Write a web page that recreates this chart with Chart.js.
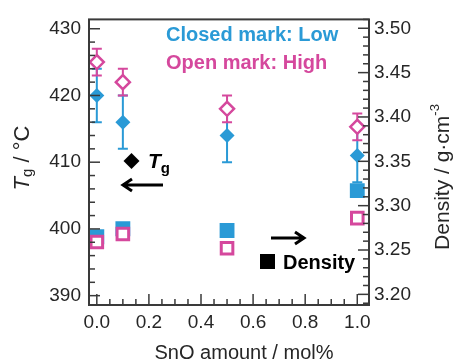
<!DOCTYPE html>
<html>
<head>
<meta charset="utf-8">
<script src="https://cdn.jsdelivr.net/npm/chart.js@4/dist/chart.umd.min.js"></script>
<style>
  body { margin: 0; background: #fff; }
  canvas { display: block; }
</style>
</head>
<body>
<canvas id="tgChart" width="454" height="363"></canvas>
<script>
// values
const snoAmount = [0.0, 0.1, 0.5, 1.0];
const tgLow = [420, 416, 414, 411];
const tgLowErr = [4, 4, 4, 4];
const tgHigh = [425, 422, 418, 415.3];
const tgHighErr = [2, 2, 2, 2];
const densityLow = [3.265, 3.274, 3.272, 3.317];
const densityHigh = [3.259, 3.268, 3.252, 3.286];

const xTickValues = [0.0, 0.2, 0.4, 0.6, 0.8, 1.0];
const tgTickValues = [390, 400, 410, 420, 430];
const densityTickValues = [3.20, 3.25, 3.30, 3.35, 3.40, 3.45, 3.50];

const BLUE = '#2a9ad6';
const PINK = '#d5489d';
const INK = '#262626';

function points(xs, ys) {
  return xs.map((x, i) => ({ x: x, y: ys[i] }));
}

// error bars for the Tg series, drawn under the markers
const errorBars = {
  id: 'errorBars',
  beforeDatasetsDraw(chart) {
    const ctx = chart.ctx;
    const xs = chart.scales.x, ys = chart.scales.yTg;
    const sets = [[tgLow, tgLowErr, BLUE], [tgHigh, tgHighErr, PINK]];
    ctx.save();
    ctx.lineWidth = 2;
    sets.forEach(([vals, errs, color]) => {
      ctx.strokeStyle = color;
      vals.forEach((v, i) => {
        const px = xs.getPixelForValue(snoAmount[i]);
        const top = ys.getPixelForValue(v + errs[i]);
        const bot = ys.getPixelForValue(v - errs[i]);
        ctx.beginPath();
        ctx.moveTo(px, top); ctx.lineTo(px, bot);
        ctx.moveTo(px - 5, top); ctx.lineTo(px + 5, top);
        ctx.moveTo(px - 5, bot); ctx.lineTo(px + 5, bot);
        ctx.stroke();
      });
    });
    ctx.restore();
  }
};

function richText(ctx, parts, x, y, align) {
  let total = 0;
  parts.forEach(p => { ctx.font = p.font; total += ctx.measureText(p.text).width; });
  let cx = align === 'center' ? x - total / 2 : x;
  parts.forEach(p => {
    ctx.font = p.font;
    ctx.fillText(p.text, cx, y + (p.dy || 0));
    cx += ctx.measureText(p.text).width;
  });
}

// frame, inward ticks, titles and annotations
const decor = {
  id: 'decor',
  afterDraw(chart) {
    const ctx = chart.ctx;
    const a = chart.chartArea;
    ctx.save();
    ctx.strokeStyle = '#3a3a3a';
    ctx.lineWidth = 2;
    ctx.strokeRect(a.left, a.top, a.right - a.left, a.bottom - a.top);

    ctx.lineWidth = 1.5;
    const drawTicks = (scale, majors, step, side) => {
      const lo = Math.ceil(scale.min / step - 1e-6);
      const hi = Math.floor(scale.max / step + 1e-6);
      for (let k = lo; k <= hi; k++) {
        const v = k * step;
        const major = majors.some(m => Math.abs(m - v) < step / 10);
        const len = major ? 11 : 6;
        const p = scale.getPixelForValue(v);
        ctx.beginPath();
        if (side === 'left') { ctx.moveTo(a.left, p); ctx.lineTo(a.left + len, p); }
        if (side === 'right') { ctx.moveTo(a.right, p); ctx.lineTo(a.right - len, p); }
        if (side === 'bottom') { ctx.moveTo(p, a.bottom); ctx.lineTo(p, a.bottom - len); }
        ctx.stroke();
      }
    };
    drawTicks(chart.scales.yTg, tgTickValues, 2, 'left');
    drawTicks(chart.scales.yDensity, densityTickValues, 0.01, 'right');
    drawTicks(chart.scales.x, xTickValues, 0.05, 'bottom');

    ctx.fillStyle = INK;
    ctx.textBaseline = 'middle';
    const sans = 'Liberation Sans, Arial, sans-serif';

    // x title
    ctx.textAlign = 'left';
    richText(ctx, [{ text: 'SnO amount / mol%', font: '20px ' + sans }], 244, 353, 'center');

    // left title
    ctx.save();
    ctx.translate(23, 158);
    ctx.rotate(-Math.PI / 2);
    richText(ctx, [
      { text: 'T', font: 'italic 22px ' + sans },
      { text: 'g', font: '15px ' + sans, dy: 5 },
      { text: ' / °C', font: '22px ' + sans }
    ], 0, 0, 'center');
    ctx.restore();

    // right title
    ctx.save();
    ctx.translate(443, 177);
    ctx.rotate(-Math.PI / 2);
    richText(ctx, [
      { text: 'Density / g·cm', font: '21px ' + sans },
      { text: '-3', font: '13px ' + sans, dy: -8 }
    ], 0, 0, 'center');
    ctx.restore();

    // legend notes
    ctx.textBaseline = 'alphabetic';
    ctx.fillStyle = BLUE;
    richText(ctx, [{ text: 'Closed mark: Low', font: 'bold 20px ' + sans }], 166, 41, 'left');
    ctx.fillStyle = PINK;
    richText(ctx, [{ text: 'Open mark: High', font: 'bold 20px ' + sans }], 166, 69, 'left');

    ctx.fillStyle = '#000';
    ctx.strokeStyle = '#000';
    // Tg marker + arrow
    ctx.beginPath();
    ctx.moveTo(131.5, 153); ctx.lineTo(139.5, 161); ctx.lineTo(131.5, 169); ctx.lineTo(123.5, 161);
    ctx.closePath(); ctx.fill();
    richText(ctx, [
      { text: 'T', font: 'italic bold 21px ' + sans },
      { text: 'g', font: 'bold 15px ' + sans, dy: 5 }
    ], 148, 168, 'left');
    ctx.lineWidth = 3;
    ctx.beginPath();
    ctx.moveTo(163, 185); ctx.lineTo(124, 185);
    ctx.moveTo(132, 179); ctx.lineTo(123, 185); ctx.lineTo(132, 191);
    ctx.stroke();

    // density marker + arrow
    ctx.beginPath();
    ctx.moveTo(271, 238); ctx.lineTo(303, 238);
    ctx.moveTo(295, 232); ctx.lineTo(304, 238); ctx.lineTo(295, 244);
    ctx.stroke();
    ctx.fillRect(260, 254, 15, 15);
    richText(ctx, [{ text: 'Density', font: 'bold 20px ' + sans }], 283, 269, 'left');
    ctx.restore();
  }
};

const tickFont = { family: 'Liberation Sans, Arial, sans-serif', size: 19 };

new Chart(document.getElementById('tgChart'), {
  type: 'scatter',
  data: {
    datasets: [
      {
        label: 'Tg high',
        data: points(snoAmount, tgHigh),
        yAxisID: 'yTg',
        order: 1,
        pointStyle: 'rectRot',
        pointRadius: 7,
        pointBorderWidth: 2.5,
        pointBorderColor: PINK,
        pointBackgroundColor: '#fff'
      },
      {
        label: 'Density high',
        data: points(snoAmount, densityHigh),
        yAxisID: 'yDensity',
        order: 1,
        pointStyle: 'rect',
        pointRadius: 8.2,
        pointBorderWidth: 3,
        pointBorderColor: PINK,
        pointBackgroundColor: '#fff'
      },
      {
        label: 'Tg low',
        data: points(snoAmount, tgLow),
        yAxisID: 'yTg',
        order: 2,
        pointStyle: 'rectRot',
        pointRadius: 7.5,
        pointBorderWidth: 0,
        pointBackgroundColor: BLUE
      },
      {
        label: 'Density low',
        data: points(snoAmount, densityLow),
        yAxisID: 'yDensity',
        order: 2,
        pointStyle: 'rect',
        pointRadius: 10.5,
        pointBorderWidth: 0,
        pointBackgroundColor: BLUE
      }
    ]
  },
  options: {
    responsive: false,
    animation: false,
    devicePixelRatio: 1,
    layout: { padding: { top: 15, left: 0, right: 0, bottom: 0 } },
    plugins: { legend: { display: false }, tooltip: { enabled: false } },
    scales: {
      x: {
        type: 'linear',
        min: -0.03,
        max: 1.045,
        grid: { display: false, drawTicks: false },
        border: { display: false },
        afterBuildTicks: s => { s.ticks = xTickValues.map(v => ({ value: v })); },
        afterFit: s => { s.height = 58; },
        ticks: { font: tickFont, color: INK, padding: 6, maxRotation: 0, callback: v => v.toFixed(1) }
      },
      yTg: {
        type: 'linear',
        position: 'left',
        min: 388.6,
        max: 431.4,
        grid: { display: false, drawTicks: false },
        border: { display: false },
        afterBuildTicks: s => { s.ticks = tgTickValues.map(v => ({ value: v })); },
        afterFit: s => { s.width = 89; },
        ticks: { font: tickFont, color: INK, padding: 8, callback: v => String(v) }
      },
      yDensity: {
        type: 'linear',
        position: 'right',
        min: 3.188,
        max: 3.510,
        grid: { display: false, drawTicks: false },
        border: { display: false },
        afterBuildTicks: s => { s.ticks = densityTickValues.map(v => ({ value: v })); },
        afterFit: s => { s.width = 85; },
        ticks: { font: tickFont, color: INK, padding: 5, callback: v => v.toFixed(2) }
      }
    }
  },
  plugins: [errorBars, decor]
});
</script>
</body>
</html>
